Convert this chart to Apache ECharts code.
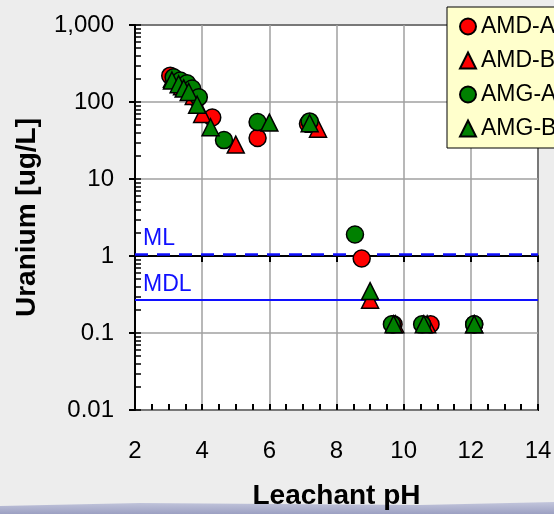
<!DOCTYPE html>
<html>
<head>
<meta charset="utf-8">
<script src="https://cdn.jsdelivr.net/npm/echarts@6/dist/echarts.min.js"></script>
<style>
  html, body { margin: 0; padding: 0; background: #ededed; }
  #chart { width: 554px; height: 514px; }
</style>
</head>
<body>
<div id="chart"></div>
<script>
// Uranium concentration [ug/L] versus leachant pH, four leach series
const amdA = [[3.05, 220], [3.5, 165], [3.85, 110], [4.3, 63], [5.65, 34], [7.15, 52], [8.75, 0.93], [9.7, 0.13], [10.8, 0.13], [12.1, 0.13]];
const amdB = [[3.1, 200], [3.4, 160], [3.75, 120], [4.0, 70], [5.0, 28], [7.45, 45], [9.0, 0.27], [9.75, 0.13], [10.7, 0.13], [12.1, 0.13]];
const amgA = [[3.15, 210], [3.35, 190], [3.55, 175], [3.7, 150], [3.9, 115], [4.65, 32], [5.65, 55], [7.2, 56], [8.55, 1.9], [9.65, 0.13], [10.55, 0.13], [12.1, 0.13]];
const amgB = [[3.1, 190], [3.3, 170], [3.45, 150], [3.6, 135], [3.85, 92], [4.25, 47], [6.0, 54], [7.2, 53], [9.0, 0.35], [9.7, 0.13], [10.6, 0.13], [12.1, 0.13]];

// Reporting limits
const mlLevel = 1.05;
const mdlLevel = 0.27;

const seriesNames = ['AMD-A', 'AMD-B', 'AMG-A', 'AMG-B'];

// log-space positions for the 1..9 x 10^n tick marks on the value axis
const logTickPositions = [];
for (let e = -2; e <= 3; e++) {
  for (let k = 1; k <= 9; k++) {
    const v = Math.log10(k) + e;
    if (v <= 3 + 1e-9) logTickPositions.push(v);
  }
}

const FONT = 'Liberation Sans, Arial, sans-serif';
const RED = '#ff0000';
const GREEN = '#008000';

function markerSeries(name, data, symbol, color) {
  return {
    name: name,
    type: 'scatter',
    data: data,
    symbol: symbol,
    symbolSize: 17,
    z: 3,
    itemStyle: { color: color, borderColor: '#000', borderWidth: 1.5, opacity: 1 }
  };
}

const chart = echarts.init(document.getElementById('chart'), null, { renderer: 'canvas' });

chart.setOption({
  backgroundColor: 'transparent',
  animation: false,
  textStyle: { fontFamily: FONT },
  graphic: [{
    type: 'polygon',
    shape: { points: [[0, 506], [140, 503], [277, 504], [420, 505], [554, 502], [554, 514], [0, 514]] },
    style: {
      fill: {
        type: 'linear', x: 0, y: 0, x2: 0, y2: 1,
        colorStops: [{ offset: 0, color: '#c3c6dc' }, { offset: 1, color: '#9ca0c2' }]
      }
    },
    z: -10
  }],
  grid: {
    left: 135, right: 16, top: 25, bottom: 104,
    containLabel: false, outerBoundsMode: 'none',
    show: true, backgroundColor: '#ffffff', borderColor: '#000', borderWidth: 2
  },
  legend: {
    data: seriesNames,
    orient: 'vertical',
    left: 447, top: 7,
    backgroundColor: '#ffffcc',
    borderColor: '#000', borderWidth: 1, borderRadius: 0,
    padding: [8, 60, 8, 12],
    itemGap: 11,
    itemWidth: 16, itemHeight: 16,
    textStyle: { fontSize: 23, color: '#000', fontFamily: FONT }
  },
  xAxis: [{
    type: 'value', min: 2, max: 14, interval: 2,
    name: 'Leachant pH', nameLocation: 'middle', nameGap: 72,
    nameTextStyle: { fontSize: 28, fontWeight: 'bold', color: '#000', fontFamily: FONT },
    axisLine: { show: true, lineStyle: { color: '#000', width: 2 } },
    axisTick: { show: true, inside: false, length: 6, lineStyle: { color: '#000', width: 2 } },
    axisLabel: { fontSize: 24, color: '#000', margin: 29, fontFamily: FONT },
    splitLine: { show: true, lineStyle: { color: '#a0a0a0', width: 1.5 } }
  }, {
    type: 'value', min: 2, max: 14, interval: 0.5, position: 'bottom',
    axisLine: { show: false }, axisLabel: { show: false }, splitLine: { show: false },
    axisTick: { show: true, inside: true, length: 6, lineStyle: { color: '#000', width: 2 } }
  }],
  yAxis: [{
    type: 'log', logBase: 10, min: 0.01, max: 1000,
    name: 'Uranium [ug/L]', nameLocation: 'middle', nameGap: 94, nameRotate: 90,
    nameTextStyle: { fontSize: 28, fontWeight: 'bold', color: '#000', fontFamily: FONT },
    axisLine: { show: true, lineStyle: { color: '#000', width: 2 } },
    axisTick: { show: true, inside: false, length: 6, lineStyle: { color: '#000', width: 2 } },
    axisLabel: {
      fontSize: 24, color: '#000', margin: 21, fontFamily: FONT,
      formatter: function (v) { return Number(Number(v).toPrecision(3)).toLocaleString('en-US'); }
    },
    splitLine: { show: true, lineStyle: { color: '#a0a0a0', width: 1.5 } }
  }, {
    type: 'value', min: -2, max: 3, interval: 1, position: 'left',
    axisLine: { show: false }, axisLabel: { show: false }, splitLine: { show: false },
    axisTick: {
      show: true, inside: true, length: 6,
      customValues: logTickPositions,
      lineStyle: { color: '#000', width: 1.5 }
    }
  }],
  series: [
    {
      name: 'limits',
      type: 'line',
      data: [],
      markLine: {
        silent: true,
        z: 1,
        symbol: 'none',
        label: {
          show: true, position: 'insideStartTop', formatter: '{b}',
          color: '#1010ff', fontSize: 23, fontFamily: FONT, distance: [8, 4]
        },
        data: [
          { name: 'ML', yAxis: mlLevel, lineStyle: { color: '#1010ff', width: 2.5, type: [13, 9] } },
          { name: 'MDL', yAxis: mdlLevel, lineStyle: { color: '#1010ff', width: 2, type: 'solid' } }
        ]
      }
    },
    markerSeries('AMD-A', amdA, 'circle', RED),
    markerSeries('AMD-B', amdB, 'triangle', RED),
    markerSeries('AMG-A', amgA, 'circle', GREEN),
    markerSeries('AMG-B', amgB, 'triangle', GREEN)
  ]
});
</script>
</body>
</html>
